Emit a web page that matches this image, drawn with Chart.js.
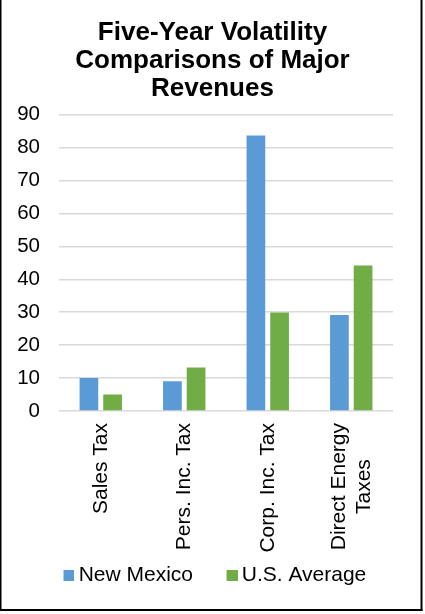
<!DOCTYPE html>
<html>
<head>
<meta charset="utf-8">
<script src="https://cdn.jsdelivr.net/npm/chart.js@4/dist/chart.umd.min.js"></script>
<style>
  html, body { margin: 0; padding: 0; background: #ffffff; }
  #wrap { width: 425px; height: 614px; }
</style>
</head>
<body>
<div id="wrap"><canvas id="chart" width="425" height="614"></canvas></div>
<script>
// Revenue categories (multi-line entries wrap onto a second row)
const categories = ['Sales Tax', 'Pers. Inc. Tax', 'Corp. Inc. Tax', ['Direct Energy', 'Taxes']];

// Five-year volatility values per revenue source
const newMexico = [10.0, 9.0, 83.7, 29.2];
const usAverage = [5.0, 13.2, 29.9, 44.2];

// Value axis ticks
const yTicks = [0, 10, 20, 30, 40, 50, 60, 70, 80, 90];

const FONT = "'Liberation Sans', Arial, sans-serif";
const BLUE = '#5B9BD5';
const GREEN = '#70AD47';

// Legend swatch: a square sitting in the right half of its image,
// so it hugs the label text
function makeSwatch(color) {
  const c = document.createElement('canvas');
  c.width = 22;
  c.height = 11;
  const g = c.getContext('2d');
  g.fillStyle = color;
  g.fillRect(11, 0, 11, 11);
  return c;
}

// White background and the frame around the chart (open at the top)
const framePlugin = {
  id: 'frame',
  beforeDraw(chart) {
    const ctx = chart.ctx;
    ctx.save();
    ctx.fillStyle = '#ffffff';
    ctx.fillRect(0, 0, chart.width, chart.height);
    ctx.restore();
  },
  afterDraw(chart) {
    const ctx = chart.ctx;
    ctx.save();
    ctx.fillStyle = '#000000';
    ctx.fillRect(0, 0, 1.5, 611);
    ctx.fillRect(420.5, 0, 2, 611);
    ctx.fillRect(0, 609, 422.5, 2);
    ctx.restore();
  }
};

// Vertical category labels; wrapped lines are centred on each other
const verticalLabels = {
  id: 'verticalLabels',
  afterDraw(chart) {
    const scale = chart.scales.x;
    const ctx = chart.ctx;
    const lineHeight = 25;
    ctx.save();
    ctx.font = '21px ' + FONT;
    ctx.fillStyle = '#000000';
    ctx.textAlign = 'center';
    ctx.textBaseline = 'middle';
    chart.data.labels.forEach((label, i) => {
      const lines = Array.isArray(label) ? label : [label];
      const w = Math.max(...lines.map(l => ctx.measureText(l).width));
      const x = scale.getPixelForValue(i);
      ctx.save();
      ctx.translate(x, scale.top + 12);
      ctx.rotate(-Math.PI / 2);
      lines.forEach((line, j) => {
        ctx.fillText(line, -w / 2, (j - (lines.length - 1) / 2) * lineHeight);
      });
      ctx.restore();
    });
    ctx.restore();
  }
};

new Chart(document.getElementById('chart'), {
  type: 'bar',
  data: {
    labels: categories,
    datasets: [
      { label: 'New Mexico', data: newMexico, backgroundColor: BLUE, borderWidth: 0, pointStyle: makeSwatch(BLUE) },
      { label: 'U.S. Average', data: usAverage, backgroundColor: GREEN, borderWidth: 0, pointStyle: makeSwatch(GREEN) }
    ]
  },
  options: {
    responsive: false,
    animation: false,
    devicePixelRatio: 1,
    layout: { padding: { left: 0, right: 0, top: 0, bottom: 18.5 } },
    datasets: { bar: { categoryPercentage: 0.567, barPercentage: 0.79 } },
    plugins: {
      title: {
        display: true,
        text: ['Five-Year Volatility', 'Comparisons of Major', 'Revenues'],
        color: '#000000',
        font: { family: FONT, size: 26, weight: 'bold', lineHeight: 1.08 },
        padding: { top: 19, bottom: 11.5 }
      },
      legend: {
        position: 'bottom',
        labels: {
          usePointStyle: true,
          boxWidth: 9.4,
          boxHeight: 11,
          padding: 28.8,
          color: '#000000',
          font: { family: FONT, size: 21 }
        }
      },
      tooltip: { enabled: false }
    },
    scales: {
      x: {
        grid: { display: false },
        border: { display: false },
        ticks: { display: false },
        afterFit(scale) { scale.height = 124.7; }
      },
      y: {
        min: 0,
        max: 90,
        afterBuildTicks(scale) { scale.ticks = yTicks.map(v => ({ value: v })); },
        grid: { color: '#D9D9D9', lineWidth: 1.5, drawTicks: false },
        border: { display: false },
        ticks: { color: '#000000', padding: 19, font: { family: FONT, size: 20.5 } },
        afterFit(scale) { scale.width = 59; }
      },
      yRight: {
        position: 'right',
        grid: { display: false, drawTicks: false },
        border: { display: false },
        ticks: { display: false },
        afterFit(scale) { scale.width = 32; }
      }
    }
  },
  plugins: [framePlugin, verticalLabels]
});
</script>
</body>
</html>
